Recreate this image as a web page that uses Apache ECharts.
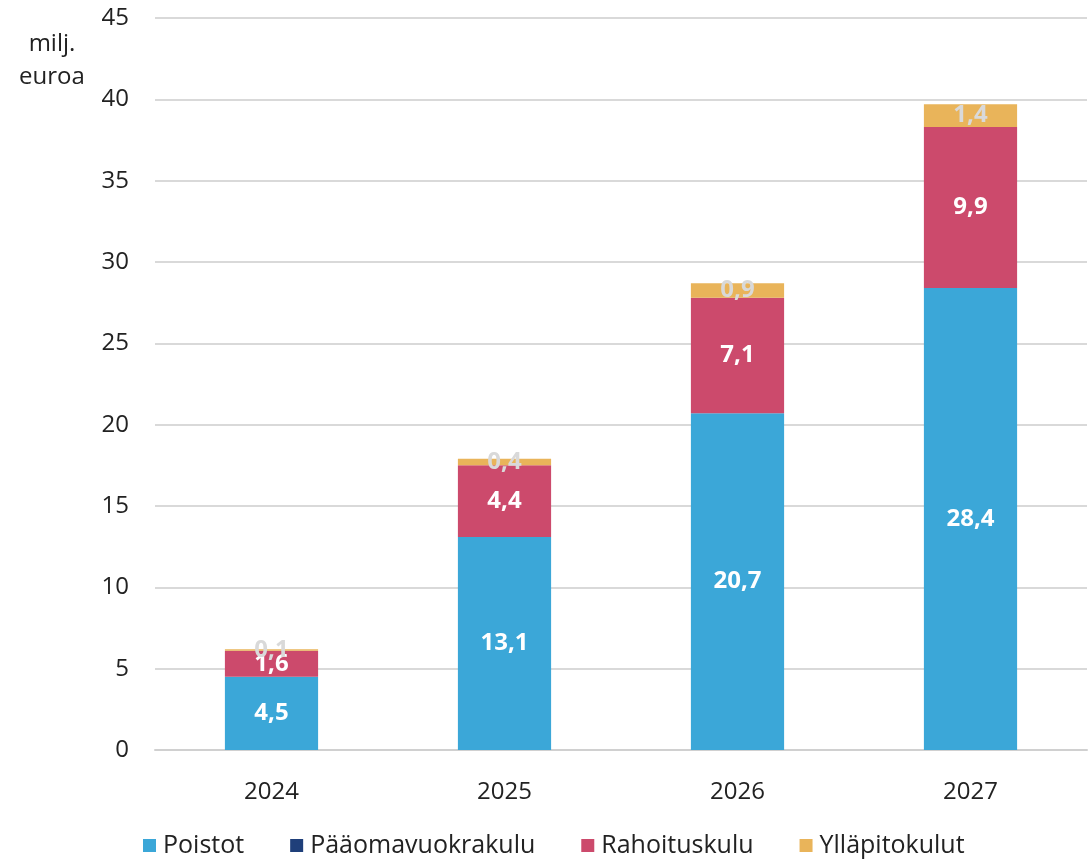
<!DOCTYPE html>
<html>
<head>
<meta charset="utf-8">
<script src="https://cdn.jsdelivr.net/npm/echarts@6/dist/echarts.min.js"></script>
<style>
  html, body { margin: 0; padding: 0; background: #fff; }
  #chart { width: 1089px; height: 863px; }
</style>
</head>
<body>
<div id="chart"></div>
<script>
const years = ["2024", "2025", "2026", "2027"];
const poistot = [4.5, 13.1, 20.7, 28.4];
const paaomavuokrakulu = [0, 0, 0, 0];
const rahoituskulu = [1.6, 4.4, 7.1, 9.9];
const yllapitokulut = [0.1, 0.4, 0.9, 1.4];

const font = "'Open Sans', 'Liberation Sans', sans-serif";
const fmt = (p) => p.value ? String(p.value).replace(".", ",") : "";

function serie(name, data, color, labelColor) {
  return {
    name: name,
    type: "bar",
    stack: "total",
    barWidth: "40%",
    data: data,
    itemStyle: { color: color },
    label: {
      show: true,
      position: "inside",
      color: labelColor,
      fontFamily: font,
      fontWeight: "bold",
      fontSize: 24,
      formatter: fmt
    }
  };
}

const chart = echarts.init(document.getElementById("chart"));
chart.setOption({
  animation: false,
  textStyle: { fontFamily: font },
  grid: { left: 155, right: 2, top: 18, bottom: 113 },
  legend: {
    bottom: 0,
    left: 138,
    itemWidth: 13,
    itemHeight: 13,
    itemGap: 46,
    icon: "rect",
    textStyle: { fontSize: 25, color: "#222", fontFamily: font, padding: [0, 0, 0, 2] },
    data: ["Poistot", "Pääomavuokrakulu", "Rahoituskulu", "Ylläpitokulut"]
  },
  graphic: [{
    type: "text",
    x: 52,
    y: 28,
    style: {
      text: "milj.\neuroa",
      fontSize: 24,
      lineHeight: 33,
      fill: "#222",
      fontFamily: font,
      align: "center",
      verticalAlign: "top"
    }
  }],
  xAxis: {
    type: "category",
    data: years,
    axisLine: { lineStyle: { color: "#d0d0d0", width: 2 } },
    axisTick: { show: false },
    axisLabel: { fontSize: 24, color: "#222", margin: 30 }
  },
  yAxis: {
    type: "value",
    min: 0,
    max: 45,
    interval: 5,
    axisLine: { show: false },
    axisTick: { show: false },
    splitLine: { lineStyle: { color: "#d9d9d9", width: 2 } },
    axisLabel: { fontSize: 24, color: "#222", margin: 26 }
  },
  series: [
    serie("Poistot", poistot, "#3BA7D8", "#ffffff"),
    serie("Pääomavuokrakulu", paaomavuokrakulu, "#1F3F7A", "#ffffff"),
    serie("Rahoituskulu", rahoituskulu, "#CC4A6C", "#ffffff"),
    serie("Ylläpitokulut", yllapitokulut, "#E9B45A", "#D9D9D9")
  ]
});
</script>
</body>
</html>
